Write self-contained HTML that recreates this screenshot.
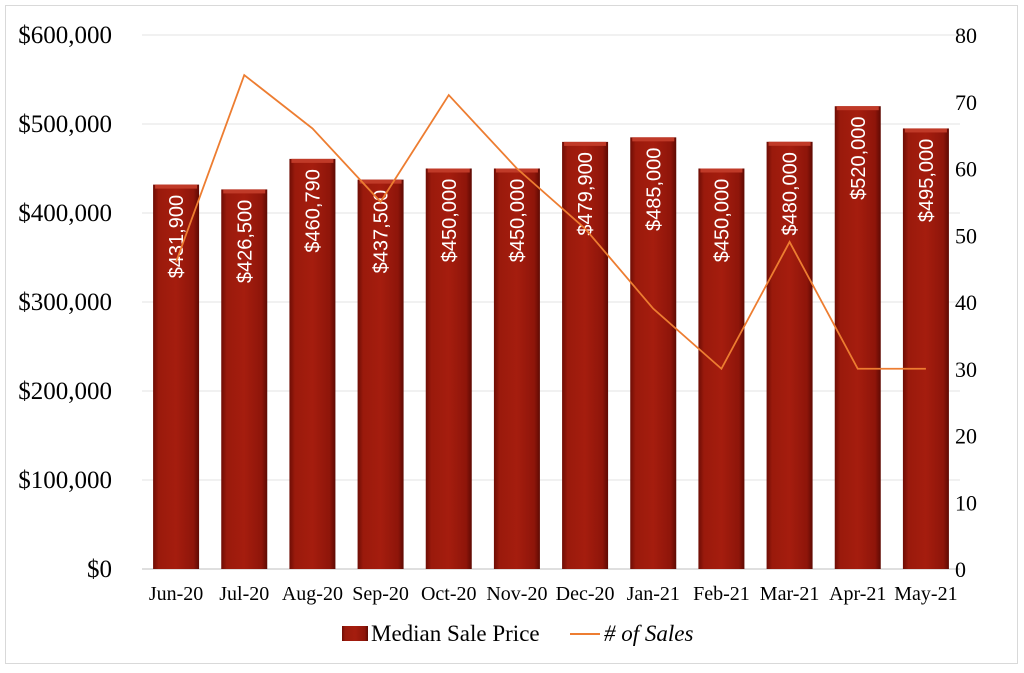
<!DOCTYPE html>
<html><head><meta charset="utf-8"><style>
body{margin:0;background:#fff;}
svg{display:block;}
</style></head><body>
<svg id="c" width="1024" height="673" xmlns="http://www.w3.org/2000/svg">
<defs>
<linearGradient id="bg" x1="0" x2="1" y1="0" y2="0">
<stop offset="0" stop-color="#6e0d05"/><stop offset="0.12" stop-color="#9a1a0c"/><stop offset="0.5" stop-color="#a51d0e"/><stop offset="0.88" stop-color="#8e150a"/><stop offset="1" stop-color="#5e0a03"/>
</linearGradient>
</defs>
<rect x="5.5" y="5.5" width="1012" height="658" fill="#fff" stroke="#d9d9d9"/>
<g id="grid"></g><g id="bars"></g><g id="line"></g><g id="axes"></g>
<g>
<rect x="342" y="626" width="26" height="15" fill="url(#bg)"/>
<text x="371" y="641" font-family="Liberation Serif, serif" font-size="23" fill="#000">Median Sale Price</text>
<line x1="570" y1="634" x2="600" y2="634" stroke="#ed7d31" stroke-width="2"/>
<text x="604" y="641" font-family="Liberation Serif, serif" font-style="italic" font-size="23" fill="#000"># of Sales</text>
</g>
</svg>
<script>
const categories=["Jun-20","Jul-20","Aug-20","Sep-20","Oct-20","Nov-20","Dec-20","Jan-21","Feb-21","Mar-21","Apr-21","May-21"];
const prices=[431900,426500,460790,437500,450000,450000,479900,485000,450000,480000,520000,495000];
const priceLabels=["$431,900","$426,500","$460,790","$437,500","$450,000","$450,000","$479,900","$485,000","$450,000","$480,000","$520,000","$495,000"];
const sales=[46,74,66,55,71,60,51,39,30,49,30,30];
const leftTicks=["$0","$100,000","$200,000","$300,000","$400,000","$500,000","$600,000"];
const rightTicks=[0,10,20,30,40,50,60,70,80];
const NS="http://www.w3.org/2000/svg";
const x0=142,x1=960,yB=569,yT=35;
const yL=v=>yB-(v/600000)*(yB-yT);
const yR=v=>yB-(v/80)*(yB-yT);
const step=(x1-x0)/categories.length;
const xc=i=>x0+step*(i+0.5);
function mk(t,a,p){const e=document.createElementNS(NS,t);for(const k in a)e.setAttribute(k,a[k]);p.appendChild(e);return e;}
const G=document.getElementById('grid'),B=document.getElementById('bars'),L=document.getElementById('line'),A=document.getElementById('axes');
leftTicks.forEach((t,i)=>{const y=yL(i*100000);
const g=mk('line',{x1:x0,x2:x1,y1:y,y2:y,stroke:i==0?'#bfbfbf':'#e3e3e3','stroke-width':1},G);


const tx=mk('text',{x:112,y:y+8,'text-anchor':'end','font-family':'Liberation Serif, serif','font-size':25},A);tx.textContent=t;

});
rightTicks.forEach(v=>{const tx=mk('text',{x:955,y:yR(v)+8,'font-family':'Liberation Serif, serif','font-size':22},A);tx.textContent=v;

});
categories.forEach((c,i)=>{const x=xc(i),w=46,y=yL(prices[i]);
const r=mk('rect',{x:x-w/2,y:y,width:w,height:yB-y,fill:'url(#bg)'},B);


const h=mk('rect',{x:x-w/2+2,y:y,width:w-4,height:4,fill:'#c03a28'},B);


const lt=mk('text',{x:0,y:0,transform:`translate(${x+7},${y+52}) rotate(-90)`,'text-anchor':'middle','font-family':'Liberation Sans, sans-serif','font-size':20,fill:'#fff'},B);lt.textContent=priceLabels[i];


const ct=mk('text',{x:x,y:600,'text-anchor':'middle','font-family':'Liberation Serif, serif','font-size':20},A);ct.textContent=c;

});
const pl=mk('polyline',{points:sales.map((v,i)=>xc(i)+','+yR(v)).join(' '),fill:'none',stroke:'#ed7d31','stroke-width':1.8},L);


</script>
</body></html>
